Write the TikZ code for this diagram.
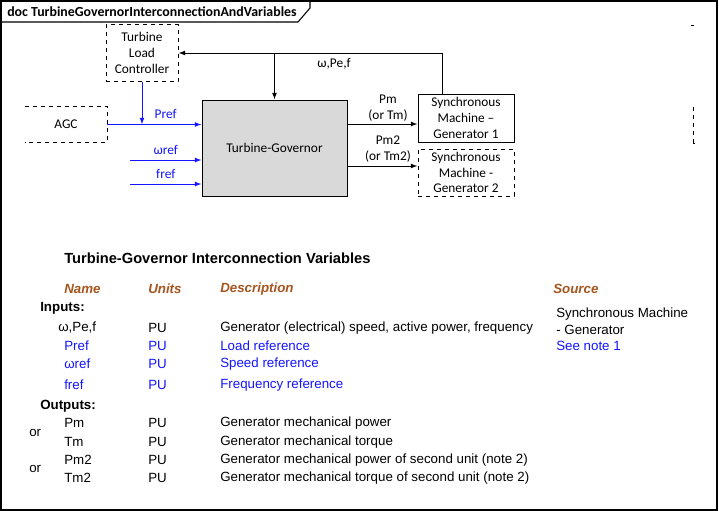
\documentclass[tikz,border=0pt]{standalone}
\usepackage{fontspec}
\setmainfont{Liberation Sans}
\newfontfamily\calfont{Carlito}
\usetikzlibrary{arrows.meta}
\definecolor{refblue}{RGB}{20,20,255}
\definecolor{hdrbrown}{RGB}{165,85,30}
\definecolor{tggray}{RGB}{217,217,217}
\tikzset{
  dia/.style={font=\calfont\fontsize{10}{11.8}\selectfont, inner sep=0pt},
  blockbox/.style={dia, draw, line width=0.7pt, align=center},
  dashbox/.style={blockbox, dashed},
  arr/.style={line width=0.7pt, -{Latex[length=5pt,width=3.6pt]}},
  barr/.style={arr, draw=refblue},
  blab/.style={dia, text=refblue},
  tab/.style={font=\fontsize{10}{12}\selectfont, inner sep=0pt, anchor=west},
  tabblue/.style={tab, text=refblue},
  tabhdr/.style={tab, font=\fontsize{10}{12}\selectfont\bfseries\itshape, text=hdrbrown},
  tabsec/.style={tab, font=\fontsize{10}{12}\selectfont\bfseries},
}
\begin{document}
\begin{tikzpicture}[x=0.75pt,y=-0.75pt]
\useasboundingbox (0,0) rectangle (719,511);
% frame
\draw[line width=1.1pt] (1,1) rectangle (717,510);
\draw[line width=0.8pt] (1,22) -- (298,22) -- (310,8) -- (310,1);
\node[font=\calfont\fontsize{10.4}{12}\selectfont\bfseries, anchor=west, inner sep=0pt] (title) at (7,12) {doc TurbineGovernorInterconnectionAndVariables};

% blocks
\node[dashbox, minimum width=72*0.75pt, minimum height=57*0.75pt] (tlc) at (142,53) {Turbine\\Load\\Controller};
\node[dia, minimum width=82*0.75pt, minimum height=35*0.75pt] (agc) at (66,124.5) {AGC};
\draw[dashed, line width=0.7pt] (agc.north west) -- (agc.north east) -- (agc.south east) -- (agc.south west);
\node[blockbox, fill=tggray, minimum width=145*0.75pt, minimum height=96*0.75pt] (tg) at (274.5,148) {Turbine-Governor};
\node[blockbox, minimum width=96*0.75pt, minimum height=48*0.75pt] (sm1) at (466,118) {Synchronous\\Machine –\\Generator 1};
\node[dashbox, minimum width=96*0.75pt, minimum height=47*0.75pt] (sm2) at (466,172.5) {Synchronous\\Machine -\\Generator 2};

% partial box at right edge
\coordinate (pa) at (691,25);
\coordinate (pb) at (694,25);
\draw[line width=0.7pt] (pa) -- (pb);
\coordinate (pc) at (693,107);
\coordinate (pd) at (693,143);
\coordinate (pe) at (695,143);
\draw[dashed, line width=0.7pt] (pc) -- (pd);
\draw[line width=0.7pt] (pd) -- (pe);

% blue inputs
\draw[barr] (agc.east) -- (agc.east -| tg.west) node[blab, pos=0.62, above=4pt] {Pref};
\draw[barr] (tlc.south) -- (tlc.south |- agc.east);
\coordinate (wr) at (130,160);
\draw[barr] (wr) -- (wr -| tg.west) node[blab, pos=0.5, above=4pt] {ωref};
\coordinate (fr) at (130,184);
\draw[barr] (fr) -- (fr -| tg.west) node[blab, pos=0.5, above=4pt] {fref};

% feedback
\coordinate (fb) at (442,53);
\coordinate (br) at (274.5,53);
\draw[arr] (sm1.north -| fb) -- (fb) -- (tlc.east);
\draw[arr] (br) -- (tg.north);
\node[dia, anchor=center] (wpf) at (334,64) {ω,Pe,f};

% outputs
\coordinate (pm) at (347,124);
\draw[arr] (pm) -- (pm -| sm1.west);
\node[dia, align=center] (pmlab) at (388,108) {Pm\\(or Tm)};
\coordinate (pm2) at (347,166);
\draw[arr] (pm2) -- (pm2 -| sm2.west);
\node[dia, align=center] (pm2lab) at (388,149) {Pm2\\(or Tm2)};

% table
\node[tab, font=\fontsize{11}{13}\selectfont\bfseries] (ttl) at (64,258) {Turbine-Governor Interconnection Variables};
\node[tabhdr] (hname) at (64,289) {Name};
\node[tabhdr] (hunits) at (148,289) {Units};
\node[tabhdr] (hdesc) at (220,289) {Description};
\node[tabhdr] (hsrc) at (553,289) {Source};
\node[tabsec] (inp) at (40,308) {Inputs:};
\node[tab] (n1) at (58,328) {ω,Pe,f};
\node[tab] (u1) at (148,328) {PU};
\node[tab] (d1) at (220,328) {Generator (electrical) speed, active power, frequency};
\node[tabblue] (n2) at (64,346) {Pref};
\node[tabblue] (u2) at (148,346) {PU};
\node[tabblue] (d2) at (220,346) {Load reference};
\node[tabblue] (n3) at (64,364) {ωref};
\node[tabblue] (u3) at (148,364) {PU};
\node[tabblue] (d3) at (220,364) {Speed reference};
\node[tabblue] (n4) at (64,385) {fref};
\node[tabblue] (u4) at (148,385) {PU};
\node[tabblue] (d4) at (220,385) {Frequency reference};
\node[tab] (s1) at (556,314) {Synchronous Machine};
\node[tab] (s2) at (556,330) {- Generator};
\node[tabblue] (s3) at (556,346) {See note 1};
\node[tabsec] (outp) at (40,406) {Outputs:};
\node[tab] (n5) at (64,423) {Pm};
\node[tab] (u5) at (148,423) {PU};
\node[tab] (d5) at (220,423) {Generator mechanical power};
\node[tab] (n6) at (64,442) {Tm};
\node[tab] (u6) at (148,442) {PU};
\node[tab] (d6) at (220,442) {Generator mechanical torque};
\node[tab] (n7) at (64,460) {Pm2};
\node[tab] (u7) at (148,460) {PU};
\node[tab] (d7) at (220,460) {Generator mechanical power of second unit (note 2)};
\node[tab] (n8) at (64,478) {Tm2};
\node[tab] (u8) at (148,478) {PU};
\node[tab] (d8) at (220,478) {Generator mechanical torque of second unit (note 2)};
\node[tab] (or1) at (29,433) {or};
\node[tab] (or2) at (29,469) {or};
\end{tikzpicture}
\end{document}
